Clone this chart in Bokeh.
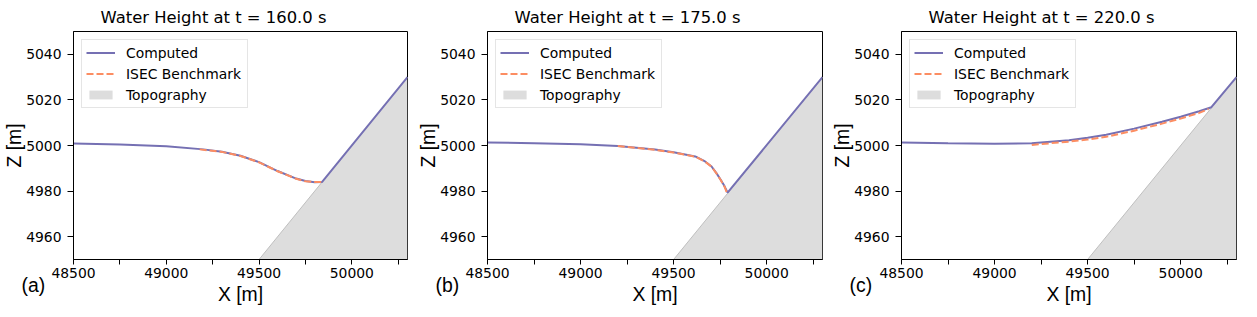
from bokeh.plotting import figure
from bokeh.models import FixedTicker, Legend, LegendItem, Range1d, Title
from bokeh.layouts import row
from bokeh.embed import file_html
from bokeh.resources import INLINE

# ---------------- data ----------------
TIMES = ["160.0", "175.0", "220.0"]
PANEL_TAGS = ["(a)", "(b)", "(c)"]
X_LABEL = "X [m]"
Z_LABEL = "Z [m]"

X_RANGE = (48500, 50300)
Z_RANGE = (4950, 5050)
X_MAJOR = [48500, 49000, 49500, 50000]
X_MINOR = [48750, 49250, 49750, 50250]
Z_TICKS = [4960, 4980, 5000, 5020, 5040]

TOPO_X = [48500, 50300]
TOPO_Z = [4850, 5030]
TOPO_BASE = [4800, 4800]

# panel (a) t = 160 s
COMP_X_A = [48500, 48750, 49000, 49200, 49300, 49400, 49500, 49600, 49700, 49750, 49800, 49840, 50300]
COMP_Z_A = [5000.9, 5000.4, 4999.7, 4998.3, 4997.3, 4995.5, 4992.7, 4988.8, 4985.5, 4984.4, 4983.9, 4984.0, 5030.0]
BENCH_X_A = [49180, 49300, 49400, 49500, 49600, 49700, 49750, 49800, 49840]
BENCH_Z_A = [4998.3, 4997.2, 4995.4, 4992.6, 4988.7, 4985.4, 4984.3, 4984.0, 4984.0]

# panel (b) t = 175 s
COMP_X_B = [48500, 48750, 49000, 49200, 49400, 49500, 49616, 49669, 49704, 49730, 49753, 49774, 49790, 50300]
COMP_Z_B = [5001.3, 5001.0, 5000.5, 4999.8, 4998.2, 4997.0, 4995.2, 4993.0, 4990.8, 4987.9, 4985.0, 4982.1, 4979.3, 5030.0]
BENCH_X_B = [49200, 49400, 49500, 49616, 49669, 49704, 49730, 49753, 49774, 49782, 49784]
BENCH_Z_B = [4999.8, 4998.1, 4996.9, 4995.1, 4992.9, 4990.7, 4987.8, 4984.9, 4981.8, 4980.2, 4979.5]

# panel (c) t = 220 s
COMP_X_C = [48500, 48750, 49000, 49200, 49400, 49500, 49600, 49750, 49900, 50000, 50100, 50165, 50300]
COMP_Z_C = [5001.3, 5001.0, 5000.8, 5001.0, 5002.3, 5003.4, 5004.7, 5007.4, 5010.4, 5012.6, 5015.0, 5016.8, 5030.0]
BENCH_X_C = [49200, 49300, 49400, 49500, 49600, 49750, 49900, 50000, 50100, 50150]
BENCH_Z_C = [5000.2, 5001.0, 5001.7, 5002.6, 5003.8, 5006.5, 5009.6, 5011.8, 5014.3, 5016.0]

COMP = [(COMP_X_A, COMP_Z_A), (COMP_X_B, COMP_Z_B), (COMP_X_C, COMP_Z_C)]
BENCH = [(BENCH_X_A, BENCH_Z_A), (BENCH_X_B, BENCH_Z_B), (BENCH_X_C, BENCH_Z_C)]

# ---------------- style ----------------
C_COMP = "#7570b3"
C_BENCH = "#fc8d62"
C_TOPO = "#dddddd"
TICK_FONT = "DejaVu Sans"
LABEL_FONT = "Liberation Sans"

WIDTHS = [414, 414, 413]
LEFTS = [66, 67, 67]
RIGHTS = [7, 6, 5]


def make_panel(i):
    title = Title(text=f"Water Height at t = {TIMES[i]} s", align="left", offset=27,
                  text_font=TICK_FONT, text_font_size="16.4px", text_font_style="normal",
                  text_color="black", standoff=10)
    p = figure(width=WIDTHS[i], height=309, title=title,
               x_range=Range1d(*X_RANGE), y_range=Range1d(*Z_RANGE),
               output_backend="svg", toolbar_location=None,
               min_border_left=LEFTS[i], min_border_right=RIGHTS[i],
               min_border_top=0, min_border_bottom=50)
    p.grid.visible = False
    p.outline_line_color = "black"
    p.outline_line_width = 1
    p.background_fill_color = "white"
    p.border_fill_color = "white"

    # axes
    p.xaxis.ticker = FixedTicker(ticks=X_MAJOR, minor_ticks=X_MINOR)
    p.yaxis.ticker = FixedTicker(ticks=Z_TICKS, minor_ticks=[])
    for ax in (p.xaxis[0], p.yaxis[0]):
        ax.major_tick_out = 5
        ax.major_tick_in = 0
        ax.major_tick_line_color = "black"
        ax.axis_line_color = "black"
        ax.major_label_text_font = TICK_FONT
        ax.major_label_text_font_size = "13.9px"
        ax.major_label_text_color = "black"
        ax.axis_label_text_font = LABEL_FONT
        ax.axis_label_text_font_size = "19.4px"
        ax.axis_label_text_font_style = "normal"
        ax.axis_label_text_color = "black"
    p.yaxis.major_tick_out = 6
    p.xaxis.minor_tick_out = 5
    p.xaxis.minor_tick_in = 0
    p.xaxis.minor_tick_line_color = "black"
    p.yaxis.minor_tick_line_color = None
    p.xaxis.major_label_standoff = 3
    p.yaxis.major_label_standoff = 6
    p.yaxis.axis_label = Z_LABEL
    p.yaxis.axis_label_standoff = -2

    # x-axis label and panel tag as bottom-aligned titles below the axis
    xlab = Title(text=X_LABEL, align="center", vertical_align="bottom", standoff=-49,
                 text_font=LABEL_FONT, text_font_size="19.4px",
                 text_font_style="normal", text_color="black")
    p.add_layout(xlab, "below")
    tag = Title(text=PANEL_TAGS[i], align="left", offset=-52, vertical_align="bottom",
                standoff=-30, text_font=LABEL_FONT,
                text_font_size="19.4px", text_font_style="normal", text_color="black")
    p.add_layout(tag, "below")

    # glyphs
    topo = p.varea(x=TOPO_X, y1=TOPO_BASE, y2=TOPO_Z, fill_color=C_TOPO)
    p.line(TOPO_X, TOPO_Z, line_color="#bfbfbf", line_width=1)
    cx, cz = COMP[i]
    bx, bz = BENCH[i]
    comp = p.line(cx, cz, line_color=C_COMP, line_width=2)
    bench = p.line(bx, bz, line_color=C_BENCH, line_width=2, line_dash="7 3")

    legend = Legend(items=[
        LegendItem(label="Computed", renderers=[comp]),
        LegendItem(label="ISEC Benchmark", renderers=[bench]),
        LegendItem(label="Topography", renderers=[topo]),
    ], location="top_left")
    legend.margin = 8
    legend.padding = 4
    legend.spacing = 4
    legend.glyph_width = 29
    legend.glyph_height = 11
    legend.label_height = 17
    legend.label_width = 117
    legend.label_standoff = 11
    legend.label_text_font = TICK_FONT
    legend.label_text_font_size = "13.9px"
    legend.label_text_color = "black"
    legend.border_line_color = "#cccccc"
    legend.border_line_width = 1
    legend.background_fill_alpha = 0.8
    p.add_layout(legend)
    return p


panels = [make_panel(i) for i in range(3)]
layout = row(*panels, spacing=0)

open("out.html", "w").write(file_html(layout, INLINE))
